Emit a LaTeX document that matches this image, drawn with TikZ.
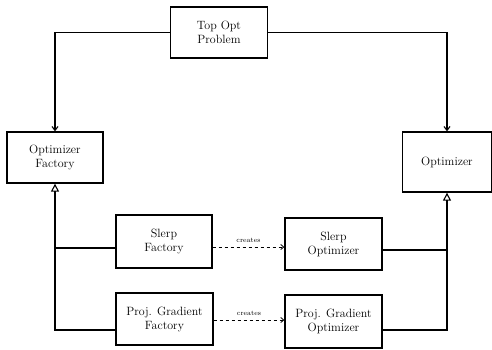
\documentclass[tikz,border=0pt]{standalone}
\usetikzlibrary{arrows.meta}
\begin{document}
\begin{tikzpicture}[x=1pt,y=-1pt,
  box/.style={draw,line width=1.3pt,align=center,inner sep=2pt,font=\large},
  conn/.style={line width=1.1pt},
  inherit/.style={conn,-{Triangle[open,length=8pt,width=8pt,line width=1.1pt]}},
  assoc/.style={conn,-{Straight Barb[length=4pt,width=6pt]}},
  creates/.style={line width=0.8pt,dashed,dash pattern=on 3pt off 3pt,-{Straight Barb[length=3pt,width=5pt]}},
  lbl/.style={font=\scriptsize,inner sep=1pt}]
\useasboundingbox (0,0) rectangle (492,349);
\node[box,minimum width=97pt,minimum height=51pt] (top) at (219,32.5) {Top Opt\\Problem};
\node[box,minimum width=96pt,minimum height=51pt] (of) at (55,157.5) {Optimizer\\Factory};
\node[box,minimum width=89pt,minimum height=60pt] (opt) at (447,162) {Optimizer};
\node[box,minimum width=96pt,minimum height=53pt] (sf) at (164,241.5) {Slerp\\Factory};
\node[box,minimum width=97pt,minimum height=52pt] (so) at (333.5,244) {Slerp\\Optimizer};
\node[box,minimum width=97pt,minimum height=52pt] (pf) at (164.5,319) {Proj. Gradient\\Factory};
\node[box,minimum width=97pt,minimum height=53pt] (po) at (333.5,321.5) {Proj. Gradient\\Optimizer};
\coordinate (lj) at (of.south |- 0,330);
\coordinate (ls) at (of.south |- 0,248);
\coordinate (rj) at (opt.south |- 0,330);
\coordinate (rs) at (opt.south |- 0,250);
\draw[assoc] (top.west) -| (of.north);
\draw[assoc] (top.east) -| (opt.north);
\draw[inherit] (pf.west |- lj) -- (lj) -- (of.south);
\draw[conn] (ls) -- (sf.west |- ls);
\draw[inherit] (po.east |- rj) -- (rj) -- (opt.south);
\draw[conn] (so.east |- rs) -- (rs);
\draw[creates] (sf.east |- 0,247) -- node[lbl,above=3pt] {creates} (so.west |- 0,247);
\draw[creates] (pf.east |- 0,320) -- node[lbl,above=3pt] {creates} (po.west |- 0,320);
\end{tikzpicture}
\end{document}
